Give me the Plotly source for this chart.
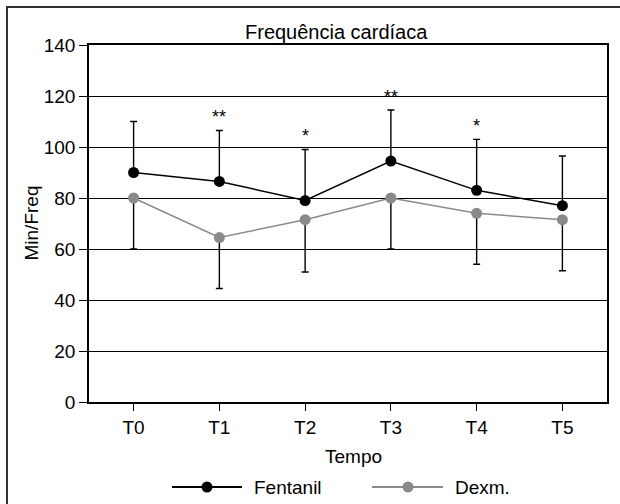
import plotly.graph_objects as go

# ---- data ----
categories = ["T0", "T1", "T2", "T3", "T4", "T5"]
fentanil = [90, 86.5, 79, 94.5, 83, 77]
fentanil_sd = [20, 20, 20, 20, 20, 19.5]
dexm = [80, 64.5, 71.5, 80, 74, 71.5]
dexm_sd = [20, 20, 20.5, 20, 20, 20]
sig_labels = ["", "**", "*", "**", "*", ""]
y_ticks = [0, 20, 40, 60, 80, 100, 120, 140]

W, H = 620, 504
L, R, T, B = 89, 13, 45, 102
PW, PH = W - L - R, H - T - B

def px_x(x):
    return (x - L) / PW

def px_y(y):
    return (H - B - y) / PH

FONT = "Liberation Sans, Arial, sans-serif"
BLACK = "#000000"
GRAY = "#8a8a8a"
FS = 19

fig = go.Figure()
fig.add_trace(go.Scatter(
    x=categories, y=dexm, mode="lines+markers", name="Dexm.",
    line=dict(color=GRAY, width=1.5),
    marker=dict(color=GRAY, size=11),
    error_y=dict(type="data", symmetric=False, array=[0]*len(dexm),
                 arrayminus=dexm_sd, color=BLACK, thickness=1.4, width=3.5),
    showlegend=False,
))
fig.add_trace(go.Scatter(
    x=categories, y=fentanil, mode="lines+markers", name="Fentanil",
    line=dict(color=BLACK, width=1.5),
    marker=dict(color=BLACK, size=11),
    error_y=dict(type="data", symmetric=False, array=fentanil_sd,
                 arrayminus=[0]*len(fentanil), color=BLACK, thickness=1.4, width=3.5),
    showlegend=False,
))

# significance asterisks
for c, v, s, lab in zip(categories, fentanil, fentanil_sd, sig_labels):
    if lab:
        fig.add_annotation(x=c, y=v + s + 0.5, text=lab, showarrow=False,
                           xanchor="center", yanchor="bottom",
                           font=dict(family=FONT, size=18, color=BLACK))

# axis titles and chart title
fig.add_annotation(x=px_x(31), y=0.5, xref="paper", yref="paper", text="Min/Freq",
                   textangle=-90, showarrow=False, xanchor="center", yanchor="middle",
                   font=dict(family=FONT, size=FS, color=BLACK))
fig.add_annotation(x=px_x(353), y=px_y(457), xref="paper", yref="paper", text="Tempo",
                   showarrow=False, xanchor="center", yanchor="middle",
                   font=dict(family=FONT, size=FS, color=BLACK))
fig.add_annotation(x=px_x(336), y=px_y(32), xref="paper", yref="paper", text="Frequência cardíaca",
                   showarrow=False, xanchor="center", yanchor="middle",
                   font=dict(family=FONT, size=20, color=BLACK))

# custom legend
LY = 487
ly = px_y(LY)
legend_items = [("Fentanil", BLACK, 172, 242, 207, 252), ("Dexm.", GRAY, 372, 443, 408, 453)]
for name, col, x0, x1, xm, xt in legend_items:
    fig.add_shape(type="line", xref="paper", yref="paper", x0=px_x(x0), x1=px_x(x1),
                  y0=ly, y1=ly, line=dict(color=col, width=2))
    r = 5.5
    fig.add_shape(type="circle", xref="paper", yref="paper",
                  x0=px_x(xm - r), x1=px_x(xm + r), y0=px_y(LY + r), y1=px_y(LY - r),
                  fillcolor=col, line=dict(color=col, width=0))
    fig.add_annotation(x=px_x(xt), y=ly, xref="paper", yref="paper", text=name,
                       xanchor="left", yanchor="middle", showarrow=False,
                       font=dict(family=FONT, size=FS, color=BLACK))

# outer frame
fig.add_shape(type="rect", xref="paper", yref="paper", x0=px_x(7), x1=px_x(640),
              y0=px_y(520), y1=px_y(7), line=dict(color="#333333", width=2), layer="below")

fig.update_layout(
    width=W, height=H,
    margin=dict(l=L, r=R, t=T, b=B),
    paper_bgcolor="white", plot_bgcolor="white",
    font=dict(family=FONT, size=FS, color=BLACK),
    xaxis=dict(
        type="category", range=[-0.52, 5.52],
        showline=True, linecolor=BLACK, linewidth=1.5, mirror=True,
        ticks="outside", ticklen=7, tickcolor=BLACK, tickwidth=1.2,
        showgrid=False, zeroline=False,
        tickfont=dict(family=FONT, size=FS, color=BLACK),
    ),
    yaxis=dict(
        range=[0, 140], tickvals=y_ticks,
        showline=True, linecolor=BLACK, linewidth=1.5, mirror=True,
        ticks="outside", ticklen=8, tickcolor=BLACK, tickwidth=1.2,
        showgrid=True, gridcolor=BLACK, gridwidth=1.3, zeroline=False,
        tickfont=dict(family=FONT, size=FS, color=BLACK),
    ),
)

fig.write_html("out.html")
